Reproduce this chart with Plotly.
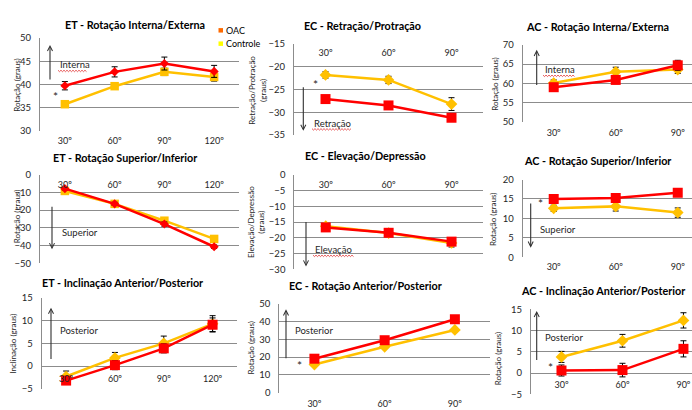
import plotly.graph_objects as go

W, H = 692, 410

# ---- data -------------------------------------------------------------
cats3 = ["30º", "60º", "90º"]
cats4 = ["30º", "60º", "90º", "120º"]
group_names = ["OAC", "Controle"]

et_rie_oac = [39.7, 42.7, 44.5, 42.8]
et_rie_oac_err = [0.9, 1.1, 1.4, 1.3]
et_rie_ctl = [35.7, 39.6, 42.7, 41.6]
et_rie_ctl_err = [0.3, 0.4, 0.8, 0.9]

ec_rp_oac = [-27.1, -28.5, -31.2]
ec_rp_oac_err = [0.6, 0.6, 0.5]
ec_rp_ctl = [-21.8, -22.9, -28.2]
ec_rp_ctl_err = [0.7, 0.8, 1.4]

ac_rie_oac = [59.0, 60.9, 64.7]
ac_rie_oac_err = [0.8, 1.0, 1.3]
ac_rie_ctl = [60.1, 63.0, 63.6]
ac_rie_ctl_err = [0.8, 1.2, 1.0]

et_rsi_oac = [-7.9, -16.5, -27.9, -40.7]
et_rsi_oac_err = [0.8, 0.9, 1.2, 1.0]
et_rsi_ctl = [-9.2, -16.5, -26.0, -36.3]
et_rsi_ctl_err = [0.8, 0.9, 1.0, 1.0]

ec_ed_oac = [-16.7, -18.4, -21.2]
ec_ed_oac_err = [0.6, 0.6, 0.6]
ec_ed_ctl = [-16.3, -18.5, -21.6]
ec_ed_ctl_err = [0.6, 0.7, 1.3]

ac_rsi_oac = [15.0, 15.25, 16.6]
ac_rsi_oac_err = [1.0, 1.0, 0.9]
ac_rsi_ctl = [12.6, 13.1, 11.5]
ac_rsi_ctl_err = [0.8, 1.2, 1.2]

et_iap_oac = [-3.2, 0.2, 3.9, 9.1]
et_iap_oac_err = [0.8, 1.0, 1.0, 1.5]
et_iap_ctl = [-2.3, 1.8, 5.0, 9.3]
et_iap_ctl_err = [1.2, 1.2, 1.6, 1.8]

ec_rap_oac = [19.1, 29.5, 41.3]
ec_rap_oac_err = [0.7, 0.7, 0.7]
ec_rap_ctl = [15.8, 25.8, 35.3]
ec_rap_ctl_err = [0.8, 0.8, 0.8]

ac_iap_oac = [0.6, 0.7, 5.7]
ac_iap_oac_err = [1.3, 1.6, 1.9]
ac_iap_ctl = [3.8, 7.6, 12.4]
ac_iap_ctl_err = [1.3, 1.5, 1.8]

# ---- style ------------------------------------------------------------
RED = "#FF0000"
GOLD = "#FFC000"
GRID = "#8C8C8C"
TXT = "#262626"
FONT = "Lato"


def px(x):
    return x / W


def py(y):
    return 1 - y / H


# panel layout: pixel box (left, right, top, bottom) of each plot area
panels = [
    dict(title="ET - Rotação Interna/Externa", ytitle="Rotação (graus)",
         cats=cats4, oac=et_rie_oac, oac_e=et_rie_oac_err, ctl=et_rie_ctl, ctl_e=et_rie_ctl_err,
         yr=(30, 50), dt=5, box=(40, 239, 33, 128), xmax=3.5, oac_sym="diamond", ctl_sym="square",
         tpos=(135, 19), ypos=(17, 82), stand=3),
    dict(title="EC - Retração/Protração", ytitle="Retração/Protração<br>(graus)",
         cats=cats3, oac=ec_rp_oac, oac_e=ec_rp_oac_err, ctl=ec_rp_ctl, ctl_e=ec_rp_ctl_err,
         yr=(-35, -15), dt=5, box=(294, 483, 39, 132.6), xmax=2.5, oac_sym="square", ctl_sym="diamond",
         tpos=(363, 20), ypos=(257, 87), stand=2),
    dict(title="AC - Rotação Interna/Externa", ytitle="Rotação (graus)",
         cats=cats3, oac=ac_rie_oac, oac_e=ac_rie_oac_err, ctl=ac_rie_ctl, ctl_e=ac_rie_ctl_err,
         yr=(50, 70), dt=5, box=(522.7, 692, 40, 119), xmax=2.23, oac_sym="square", ctl_sym="diamond",
         tpos=(597, 21), ypos=(495, 81), stand=4),
    dict(title="ET - Rotação Superior/Inferior", ytitle="Rotação (graus)",
         cats=cats4, oac=et_rsi_oac, oac_e=et_rsi_oac_err, ctl=et_rsi_ctl, ctl_e=et_rsi_ctl_err,
         yr=(-50, 0), dt=10, box=(40, 239, 173.3, 264.3), xmax=3.5, oac_sym="diamond", ctl_sym="square",
         tpos=(125, 156), ypos=(17, 217), stand=3),
    dict(title="EC - Elevação/Depressão", ytitle="Elevação/Depressão<br>(graus)",
         cats=cats3, oac=ec_ed_oac, oac_e=ec_ed_oac_err, ctl=ec_ed_ctl, ctl_e=ec_ed_ctl_err,
         yr=(-30, 0), dt=5, box=(294.3, 483, 173.3, 270.7), xmax=2.5, oac_sym="square", ctl_sym="diamond",
         tpos=(365, 154), ypos=(256, 222), stand=3),
    dict(title="AC - Rotação Superior/Inferior", ytitle="Rotação (graus)",
         cats=cats3, oac=ac_rsi_oac, oac_e=ac_rsi_oac_err, ctl=ac_rsi_ctl, ctl_e=ac_rsi_ctl_err,
         yr=(0, 20), dt=5, box=(522.7, 692, 178.3, 258.3), xmax=2.23, oac_sym="square", ctl_sym="diamond",
         tpos=(597, 159), ypos=(493, 220), stand=3),
    dict(title="ET - Inclinação Anterior/Posterior", ytitle="Inclinação (graus)",
         cats=cats4, oac=et_iap_oac, oac_e=et_iap_oac_err, ctl=et_iap_ctl, ctl_e=et_iap_ctl_err,
         yr=(-5, 15), dt=5, box=(41.7, 237, 300, 393.3), xmax=3.5, oac_sym="square", ctl_sym="diamond",
         tpos=(122, 284), ypos=(13, 347), stand=6),
    dict(title="EC - Rotação Anterior/Posterior", ytitle="Rotação (graus)",
         cats=cats3, oac=ec_rap_oac, oac_e=ec_rap_oac_err, ctl=ec_rap_ctl, ctl_e=ec_rap_ctl_err,
         yr=(0, 50), dt=10, box=(279.3, 490, 306, 397.3), xmax=2.5, oac_sym="square", ctl_sym="diamond",
         tpos=(365, 287), ypos=(251, 352), stand=4),
    dict(title="AC - Inclinação Anterior/Posterior", ytitle="Rotação (graus)",
         cats=cats3, oac=ac_iap_oac, oac_e=ac_iap_oac_err, ctl=ac_iap_ctl, ctl_e=ac_iap_ctl_err,
         yr=(-5, 15), dt=5, box=(531, 692, 311.7, 399), xmax=2.14, oac_sym="square", ctl_sym="diamond",
         tpos=(603, 292.7), ypos=(498, 363), stand=5),
]

fig = go.Figure()
layout = {}
annotations = []
shapes = []

for i, p in enumerate(panels, start=1):
    sfx = "" if i == 1 else str(i)
    xname, yname = "x" + sfx, "y" + sfx
    x0, x1, yt, yb = p["box"]
    ymin, ymax = p["yr"]
    cross = min(max(0, ymin), ymax)
    ydom = [py(yb), py(yt)]
    pos = ydom[0] + (cross - ymin) / (ymax - ymin) * (ydom[1] - ydom[0])

    layout["xaxis" + sfx] = dict(
        domain=[px(x0), px(x1)], type="category", categoryorder="array",
        categoryarray=p["cats"], range=[-0.5, p["xmax"]], anchor="free", position=pos,
        showgrid=False, zeroline=False, showline=False, ticks="",
        ticklabelstandoff=p["stand"], tickfont=dict(family=FONT, size=9, color=TXT), fixedrange=True,
    )
    layout["yaxis" + sfx] = dict(
        domain=ydom, range=[ymin, ymax], dtick=p["dt"], tick0=0, anchor=xname,
        showgrid=True, gridcolor=GRID, gridwidth=1, zeroline=False,
        showline=True, linecolor=GRID, linewidth=1, ticks="", ticklabelstandoff=6,
        tickfont=dict(family=FONT, size=9.5, color=TXT), fixedrange=True,
    )

    for name, vals, errs, col, sym, msize in (
        (group_names[1], p["ctl"], p["ctl_e"], GOLD, p["ctl_sym"], 8.5 if p["ctl_sym"] == "square" else 9),
        (group_names[0], p["oac"], p["oac_e"], RED, p["oac_sym"], 10 if p["oac_sym"] == "square" else 7),
    ):
        fig.add_trace(go.Scatter(
            x=p["cats"], y=vals, name=name, xaxis=xname, yaxis=yname,
            mode="lines+markers", showlegend=False, cliponaxis=False,
            line=dict(color=col, width=2.5),
            marker=dict(symbol=sym, size=msize, color=col),
            error_y=dict(type="data", array=errs, color="#000000", thickness=1, width=3),
        ))

    annotations.append(dict(
        text="<b>%s</b>" % p["title"], xref="paper", yref="paper",
        x=px(p["tpos"][0]), y=py(p["tpos"][1]), showarrow=False,
        xanchor="center", yanchor="middle", font=dict(family=FONT, size=10.8, color="#000000"),
    ))
    annotations.append(dict(
        text=p["ytitle"], xref="paper", yref="paper", textangle=-90,
        x=px(p["ypos"][0]), y=py(p["ypos"][1]), showarrow=False,
        xanchor="center", yanchor="middle", font=dict(family=FONT, size=8, color=TXT),
    ))

# direction arrows (x, tail y, head y) and their labels
arrows = [
    (50, 76, 40), (303.3, 83.3, 128.3), (536.7, 81.7, 45),
    (52, 206, 250), (306, 221.7, 267.7), (530.7, 202.7, 248.3),
    (51, 362.7, 310), (286, 362, 311.7), (536.7, 364, 313.3),
]
for ax_, ty, hy in arrows:
    annotations.append(dict(
        text="", xref="paper", yref="paper", x=px(ax_), y=py(hy),
        ax=0, ay=(ty - hy), showarrow=True, arrowhead=5, arrowsize=0.9,
        arrowwidth=1.1, arrowcolor="#303030",
    ))

direction_labels = [
    ("Interna", 58, 60), ("Retração", 311.7, 120.7), ("Interna", 543, 65),
    ("Superior", 60, 233), ("Elevação", 313, 250), ("Superior", 538, 230),
    ("Posterior", 58, 333), ("Posterior", 293, 333), ("Posterior", 543, 341),
]
for t, lx, ly in direction_labels:
    annotations.append(dict(
        text=t, xref="paper", yref="paper", x=px(lx), y=py(ly), showarrow=False,
        xanchor="left", yanchor="middle", font=dict(family=FONT, size=9.5, color=TXT),
    ))

# spell-check squiggles under some labels
squiggles = [(58, 87, 66), (312, 352, 126), (543, 575, 71), (313, 354, 256)]
for sx0, sx1, sy in squiggles:
    pts = []
    x = sx0
    k = 0
    while x <= sx1:
        pts.append((x, sy + (0 if k % 2 == 0 else 1.5)))
        x += 1.5
        k += 1
    path = "M " + " L ".join("%.5f,%.5f" % (px(a), py(b)) for a, b in pts)
    shapes.append(dict(type="path", xref="paper", yref="paper", path=path,
                       line=dict(color="#E03030", width=0.8), layer="above"))

# significance marks
stars = [(55, 92.5), (315, 81), (540, 202.5), (299, 369), (550.7, 371)]
for sx, sy in stars:
    annotations.append(dict(
        text="*", xref="paper", yref="paper", x=px(sx), y=py(sy), showarrow=False,
        xanchor="center", yanchor="middle", font=dict(family=FONT, size=12, color=TXT),
    ))

# legend box
shapes.append(dict(type="rect", xref="paper", yref="paper",
                   x0=px(216), x1=px(266), y0=py(47), y1=py(13),
                   fillcolor="white", line=dict(width=0), layer="above"))
legend_items = [(group_names[0], "#FF6A00", 25), (group_names[1], "#FFFF00", 38.7)]
for name, col, ly in legend_items:
    shapes.append(dict(type="rect", xref="paper", yref="paper",
                       x0=px(218.5), x1=px(223), y0=py(ly + 2.3), y1=py(ly - 2.3),
                       fillcolor=col, line=dict(width=0), layer="above"))
    annotations.append(dict(
        text=name, xref="paper", yref="paper", x=px(223.5), y=py(ly), showarrow=False,
        xanchor="left", yanchor="middle", font=dict(family=FONT, size=9, color="#000000"),
    ))

fig.update_layout(
    width=W, height=H, margin=dict(l=0, r=0, t=0, b=0),
    paper_bgcolor="white", plot_bgcolor="white",
    annotations=annotations, shapes=shapes, **layout,
)

fig.write_html("out.html")
